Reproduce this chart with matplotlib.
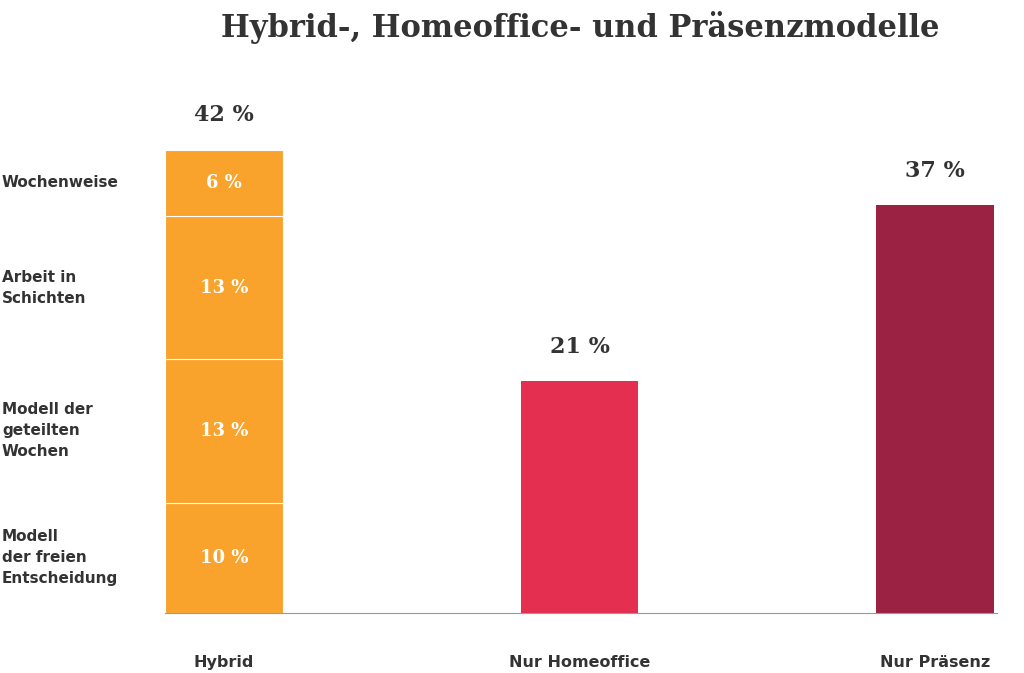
import matplotlib
matplotlib.use('Agg')
import matplotlib.pyplot as plt
import matplotlib.transforms as mtransforms

categories = ['Hybrid', 'Nur Homeoffice', 'Nur Präsenz']
totals = [42, 21, 37]
bar_colors = ['#F9A22C', '#E42F50', '#9C2243']

# Hybrid split, bottom to top
hybrid_parts = [10, 13, 13, 6]
hybrid_labels = ['Modell\nder freien\nEntscheidung', 'Modell der\ngeteilten\nWochen',
                 'Arbeit in\nSchichten', 'Wochenweise']

fig = plt.figure(figsize=(10.24, 6.73), dpi=100)
ax = fig.add_axes([165 / 1024, 60 / 673, 832 / 1024, 513 / 673])
lab_trans = mtransforms.blended_transform_factory(fig.transFigure, ax.transData)

width = 0.331
# stacked hybrid bar
bottom = 0
for val, lab in zip(hybrid_parts, hybrid_labels):
    ax.bar(0, val, width, bottom=bottom, color=bar_colors[0], edgecolor='white', linewidth=0.8)
    ax.text(0, bottom + val / 2, '{} %'.format(val), ha='center', va='center',
            color='white', fontsize=13, fontweight='bold', family='DejaVu Serif')
    ax.text(2 / 1024, bottom + val / 2, lab, ha='left', va='center', transform=lab_trans,
            fontsize=11, color='#333333', family='DejaVu Sans', fontweight='semibold',
            linespacing=1.5)
    bottom += val

for i in (1, 2):
    ax.bar(i, totals[i], width, color=bar_colors[i])

for i, t in enumerate(totals):
    ax.text(i, t + 3.1, '{} %'.format(t), ha='center', va='center', fontsize=16,
            fontweight='bold', family='DejaVu Serif', color='#333333')

ax.set_xlim(-0.166, 2.174)
ax.set_ylim(0, 46.5)
ax.set_yticks([])
ax.set_xticks(range(3))
ax.set_xticklabels(categories, fontsize=11.5, fontweight='semibold', color='#333333')
ax.tick_params(axis='x', length=0, pad=30)
for s in ['top', 'right', 'left']:
    ax.spines[s].set_visible(False)
ax.spines['bottom'].set_color('#999999')

fig.text(580 / 1024, 1 - 28 / 673, 'Hybrid-, Homeoffice- und Präsenzmodelle', ha='center',
         va='center', fontsize=22, fontweight='heavy', family='DejaVu Serif', color='#333333')

fig.savefig('out.png', dpi=100)
